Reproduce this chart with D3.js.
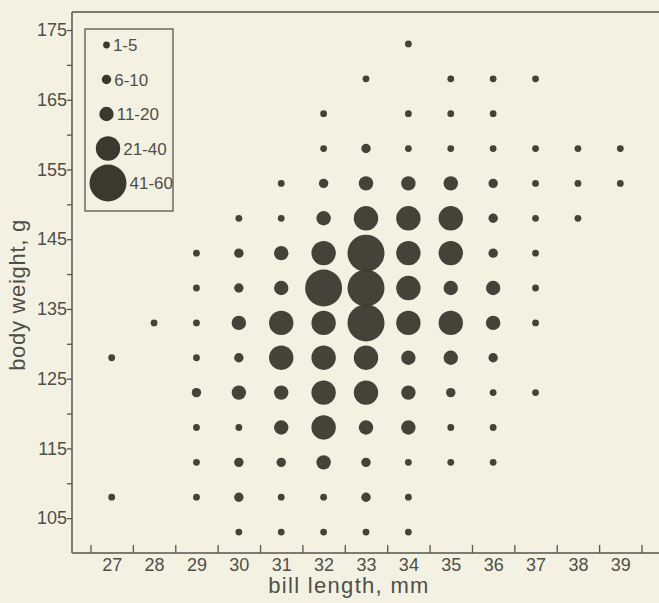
<!DOCTYPE html>
<html>
<head>
<meta charset="utf-8">
<script src="https://cdn.jsdelivr.net/npm/d3@7"></script>
<style>
  body { margin: 0; background: #f3f2e2; }
  #chart svg { display: block; }
  text { font-family: "Liberation Sans", Arial, sans-serif; }
</style>
</head>
<body>
<div id="chart"></div>
<script>
// bill length classes (mm) and body weight classes (g, class midpoints)
const billLength = [27, 28, 29, 30, 31, 32, 33, 34, 35, 36, 37, 38, 39];
const bodyWeight = [173, 168, 163, 158, 153, 148, 143, 138, 133, 128, 123, 118, 113, 108, 103];
// count class of each cell: 0 none, 1 = 1-5, 2 = 6-10, 3 = 11-20, 4 = 21-40, 5 = 41-60
const countClass = [
  [0,0,0,0,0,0,0,1,0,0,0,0,0],
  [0,0,0,0,0,0,1,0,1,1,1,0,0],
  [0,0,0,0,0,1,0,1,1,1,0,0,0],
  [0,0,0,0,0,1,2,1,1,1,1,1,1],
  [0,0,0,0,1,2,3,3,3,2,1,1,1],
  [0,0,0,1,1,3,4,4,4,2,1,1,0],
  [0,0,1,2,3,4,5,4,4,2,1,0,0],
  [0,0,1,2,3,5,5,4,3,3,1,0,0],
  [0,1,1,3,4,4,5,4,4,3,1,0,0],
  [1,0,1,2,4,4,4,3,3,2,0,0,0],
  [0,0,2,3,3,4,4,3,2,1,1,0,0],
  [0,0,1,1,3,4,3,3,1,1,0,0,0],
  [0,0,1,2,2,3,2,1,1,1,0,0,0],
  [1,0,1,2,1,1,2,1,0,0,0,0,0],
  [0,0,0,1,1,1,1,1,0,0,0,0,0]
];
const legendLabels = ["1-5", "6-10", "11-20", "21-40", "41-60"];
const yTickLabels = [105, 115, 125, 135, 145, 155, 165, 175];
const yMinorTicks = [110, 120, 130, 140, 150, 160, 170];

const width = 659, height = 603;
const ink = "#3b382f", textCol = "#4f4e48", axisCol = "#57554d";

let svg = d3.select("#chart")
  .append("svg")
  .attr("width", width)
  .attr("height", height);

svg.append("rect").attr("width", width).attr("height", height).attr("fill", "#f3f2e2");

let x = d3.scaleLinear().domain([26.5, 39.5]).range([90.5, 641.5]);
let y = d3.scaleLinear().domain([100, 175]).range([553, 30]);
let r = d3.scaleOrdinal().domain([1, 2, 3, 4, 5]).range([3.4, 4.7, 7.2, 12.2, 18.5]);

const x0 = 72, yTop = 12;

// flatten grid to points
let cells = [];
bodyWeight.forEach((w, i) => {
  billLength.forEach((b, j) => {
    if (countClass[i][j] > 0) cells.push({ bill: b, weight: w, cls: countClass[i][j] });
  });
});

// frame: top line
svg.append("line")
  .attr("x1", x0).attr("x2", width)
  .attr("y1", yTop).attr("y2", yTop)
  .attr("stroke", axisCol).attr("stroke-width", 1.5);

// y axis
let yAxis = svg.append("g")
  .attr("transform", "translate(" + x0 + ",0)")
  .call(d3.axisLeft(y).tickValues(yTickLabels).tickSize(5).tickPadding(0));
yAxis.select(".domain").remove();
yAxis.append("g")
  .call(d3.axisLeft(y).tickValues(yMinorTicks).tickSize(5).tickFormat(""))
  .select(".domain").remove();
yAxis.append("line")
  .attr("x1", 0).attr("x2", 0)
  .attr("y1", yTop).attr("y2", y(100))
  .attr("stroke", axisCol).attr("stroke-width", 1.5);

// x axis: ticks at class boundaries, labels at class centres
let xAxis = svg.append("g")
  .attr("transform", "translate(0," + y(100) + ")");
xAxis.call(d3.axisBottom(x).tickValues(billLength.map(d => d - 0.5).concat([39.5])).tickSize(-8).tickFormat(""))
  .select(".domain").remove();
xAxis.append("line")
  .attr("x1", x0).attr("x2", width)
  .attr("y1", 0).attr("y2", 0)
  .attr("stroke", axisCol).attr("stroke-width", 1.5);
let xLab = svg.append("g")
  .attr("transform", "translate(0," + y(100) + ")")
  .call(d3.axisBottom(x).tickValues(billLength).tickSize(0).tickPadding(5).tickFormat(d3.format("d")));
xLab.select(".domain").remove();

svg.selectAll(".tick line").attr("stroke", axisCol).attr("stroke-width", 1.3);
svg.selectAll(".tick text")
  .attr("fill", textCol)
  .style("font-size", "18px")
  .style("font-family", "'Liberation Sans', Arial, sans-serif");

// axis titles
svg.append("text")
  .attr("x", x(33) - 17)
  .attr("y", 593)
  .attr("text-anchor", "middle")
  .attr("fill", textCol)
  .style("font-size", "22px")
  .style("letter-spacing", "1.3px")
  .text("bill length, mm");
svg.append("text")
  .attr("transform", "translate(25," + y(137) + ") rotate(-90)")
  .attr("text-anchor", "middle")
  .attr("fill", textCol)
  .style("font-size", "22px")
  .style("letter-spacing", "0.7px")
  .text("body weight, g");

// bubbles
svg.append("g")
  .selectAll("circle")
  .data(cells)
  .enter()
  .append("circle")
  .attr("cx", d => x(d.bill))
  .attr("cy", d => y(d.weight))
  .attr("r", d => r(d.cls))
  .attr("fill", ink)
  .attr("fill-opacity", 0.95);

// legend
let leg = svg.append("g");
leg.append("rect")
  .attr("x", 85).attr("y", 29)
  .attr("width", 88).attr("height", 182)
  .attr("fill", "none")
  .attr("stroke", axisCol).attr("stroke-width", 1.3);
let ly = d3.scalePoint().domain(legendLabels).range([45, 183]);
let items = leg.selectAll(".item")
  .data(legendLabels)
  .enter()
  .append("g")
  .attr("transform", (d, i) => "translate(" + (106.5 + (i > 2 ? 1.5 : 0)) + "," + ly(d) + ")");
items.append("circle")
  .attr("r", (d, i) => r(i + 1))
  .attr("fill", ink);
items.append("text")
  .attr("x", (d, i) => r(i + 1) + 3)
  .attr("dy", "0.36em")
  .attr("fill", textCol)
  .style("font-size", "17px")
  .text(d => d);
</script>
</body>
</html>
